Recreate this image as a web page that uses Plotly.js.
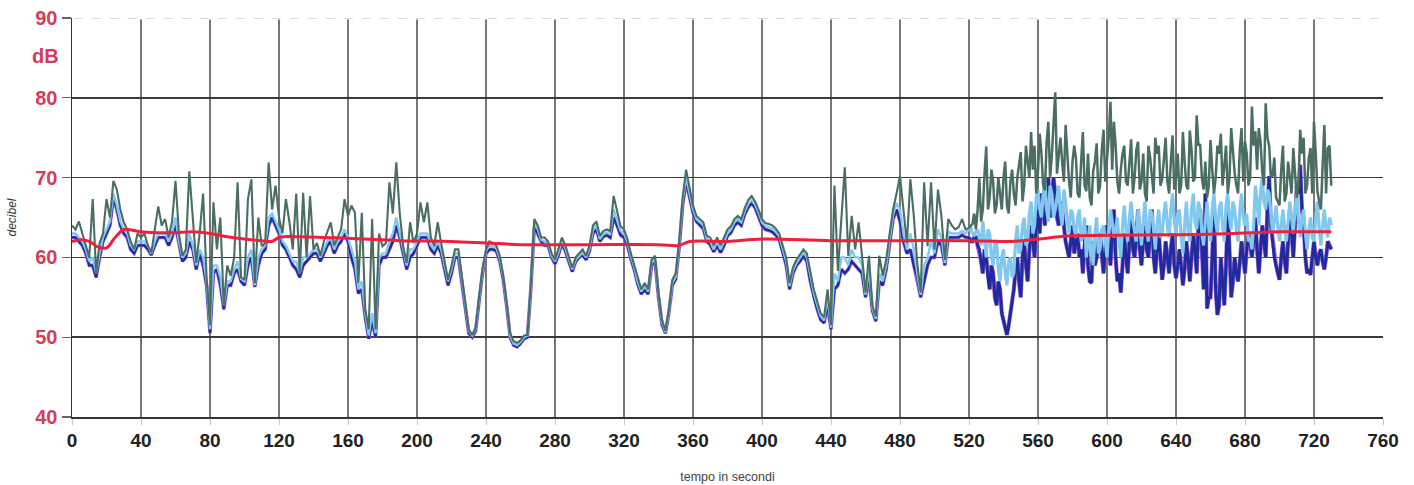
<!DOCTYPE html>
<html>
<head>
<meta charset="utf-8">
<script src="https://cdn.plot.ly/plotly-3.0.1.min.js"></script>
<style>
  html, body { margin: 0; padding: 0; background: #ffffff; }
  #chart { width: 1414px; height: 485px; }
</style>
</head>
<body>
<div id="chart"></div>
<script>
// ---- data ----
// main samples: one every 2 s from 0 s to 730 s
const sampleStep = 2;
const firstSecond = 0;
// extra samples in the busy end section: odd seconds from 521 s to 729 s
const denseFirstSecond = 521;
// the busy section starts here (drawn with heavier strokes, as in the scan)
const busyFrom = 520;

// dark green trace (highest level)
const levelGreen = [
  64, 63.5, 64.5, 63, 61.5, 60, 67.3, 58, 61.8, 63,
  67.3, 65, 69.6, 68.5, 66, 64.4, 63.5, 62, 61, 63,
  62.5, 63, 61.5, 60.6, 63.5, 66.4, 64, 64.8, 62.5, 64.5,
  69.6, 63, 60.2, 61, 70.8, 65, 59.3, 63, 68, 57.6,
  51.5, 66.9, 61, 65, 54, 59, 57.7, 60, 69.4, 57.5,
  57.2, 67.3, 69.8, 56.8, 65, 61.4, 61.8, 71.9, 66, 69,
  65, 63, 67.3, 64.5, 61, 68, 58, 68.1, 60, 67.7,
  61, 61.8, 60.2, 62, 63.1, 64.4, 61.5, 62.5, 63.5, 67.3,
  65.2, 66.5, 65.6, 56.8, 65.6, 53.5, 51, 64.8, 51, 63,
  61.4, 61.8, 69.4, 65.5, 71.9, 65.5, 61.4, 59.3, 64.4, 61.8,
  63, 66.9, 64.4, 66.9, 62.5, 61.4, 64.4, 61.8, 59.3, 57.2,
  59, 61, 61, 57.7, 53.9, 51, 50.3, 51.2, 55.1, 58.6,
  61, 62, 61.8, 61.5, 60.2, 57.7, 54.3, 50.5, 49.5, 49.3,
  49.6, 50.2, 50.3, 56.8, 64.8, 64, 62.5, 62.5, 62, 60.5,
  59.7, 61, 62.5, 61.5, 60, 58.7, 60, 60.5, 61, 60.2,
  61.5, 64, 64.5, 62.7, 63.3, 63.5, 63.3, 67.7, 65.6, 63.9,
  63.5, 62.3, 60.5, 59, 57.2, 56, 56.8, 56, 59.7, 60.2,
  55.6, 52.2, 50.8, 53.5, 57.2, 58, 62, 67.5, 71, 68.5,
  66.5, 65.2, 64.8, 64.4, 62.7, 62.5, 61.5, 62.5, 61.5, 62.5,
  63.5, 63.9, 64.8, 65.2, 64.8, 66.2, 67.2, 67.7, 67, 66,
  64.8, 64.3, 64.2, 64, 63.6, 63, 61.5, 60, 56.8, 58.8,
  59.7, 60.3, 61, 60.5, 58, 56, 54.5, 53, 52.5, 56,
  51.5, 69, 58.3, 65.5, 71.3, 60.2, 65.2, 61, 64.4, 60.2,
  55.6, 60.2, 53.9, 52.6, 60.2, 57.7, 59.7, 63, 66, 68,
  70.2, 66, 61.8, 69.8, 65.2, 59.3, 55.6, 69.4, 61.4, 69.4,
  61, 68.5, 65.2, 59.7, 64.8, 64, 63.5, 63.8, 64.8, 63.5,
  63.7, 64.2, 63.5, 69.9, 66, 73.9, 67.5, 69.5, 66.5, 67.5,
  70, 66.5, 69.5, 68, 70, 73.2, 69, 71.6, 75.7, 74,
  70.8, 73, 68.4, 77, 72.7, 80.7, 73, 72, 76.6, 69.5,
  72, 72.4, 67.5, 75.7, 68.3, 67.5, 70.8, 74.3, 69, 76,
  72.4, 79.5, 77, 69.5, 71, 74, 69, 74.8, 70, 74.5,
  69.5, 68, 74, 70.4, 75, 74, 69.8, 75, 68, 75.3,
  70, 68, 75.7, 69, 75.9, 69.5, 77.8, 74.2, 68.5, 67.5,
  74.7, 68, 74, 75.5, 71.8, 68, 76.2, 70.6, 68, 76.2,
  74.5, 69, 78.9, 75.8, 76.2, 70.7, 79.3, 74, 70.3, 67.5,
  66.5, 74, 68, 69.5, 73.7, 67.5, 76, 75, 69, 73.7,
  77, 68.3, 66, 76.6, 73.7, 69
];
const denseGreen = [
  64, 65.5, 66, 64.5, 70.5, 66, 71, 65.5, 70, 66,
  72, 65.5, 71, 66.5, 72, 67, 74, 70, 71, 68,
  75.5, 69, 74.5, 70, 76, 70.5, 75, 69.5, 73, 67.5,
  74, 68, 72, 69, 73, 66.5, 72, 68, 73.5, 69.5,
  75, 71, 74, 68, 73, 69.5, 72, 68, 73.5, 68.5,
  73, 67, 72.5, 68, 73, 69, 73, 69.5, 72, 68.5,
  73, 69, 72, 68.5, 73.5, 70, 74, 70, 72, 69,
  71, 70, 73, 69, 74, 70, 73, 69, 73.5, 69.5,
  73, 70, 74, 71, 74.5, 69, 75, 70, 72.5, 67,
  71, 67, 72, 68, 71, 69, 73, 68, 72.5, 68,
  73, 67, 71.5, 68, 74
];

// light blue trace (middle level)
const levelLightBlue = [
  63, 63, 62.5, 62, 61, 59.5, 60, 58, 60.5, 62.5,
  63.5, 64.5, 68, 66.5, 64.5, 63.5, 63, 61.5, 61, 62,
  62, 62, 61.5, 60.5, 62, 63, 63, 63, 62, 63,
  65, 62, 60, 60.5, 63, 61.5, 59, 61, 60, 57,
  51, 59, 59, 57.5, 54, 57, 57, 58.5, 59.5, 57.3,
  57, 60, 61, 56.5, 60, 61, 61.5, 65, 65.5, 64.5,
  63.5, 62, 61.5, 60.5, 59.5, 59.5, 58, 60, 60, 60.5,
  61, 61, 60, 61, 62, 62.5, 61, 62, 62.5, 63.5,
  62.5, 61, 59.5, 56, 57, 53, 50.2, 53, 50.5, 60,
  60.5, 60.5, 62, 63, 65, 63, 61, 59, 61, 61,
  62, 63, 63, 63, 61.5, 61, 62, 61, 59, 57,
  58.5, 60.5, 60.5, 57.3, 53.7, 50.8, 50.2, 51, 54.8, 58.3,
  60.8, 61.5, 61.4, 61.2, 59.8, 57.5, 54, 50.2, 49.2, 49,
  49.4, 50, 50.2, 56.4, 64.3, 63.5, 62.2, 62, 61.8, 60.2,
  59.5, 60.6, 62.1, 61.1, 59.8, 58.5, 59.7, 60.2, 60.6, 60,
  61.1, 63.4, 64, 62.3, 62.9, 63.1, 62.9, 66, 64.6, 63.3,
  63, 61.9, 60.1, 58.7, 56.9, 55.7, 56.4, 55.7, 59.3, 59.8,
  55.3, 51.9, 50.6, 53.2, 56.8, 57.6, 61.6, 67, 70, 68,
  66, 64.8, 64.4, 64, 62.3, 62, 61, 62, 61, 62,
  63, 63.5, 64.4, 64.8, 64.4, 65.8, 66.7, 67.2, 66.6, 65.6,
  64.4, 63.9, 63.8, 63.6, 63.2, 62.6, 61, 59.5, 56.4, 58.4,
  59.3, 59.9, 60.6, 60, 57.5, 55.5, 54, 52.6, 52.1, 55,
  51.2, 58, 57, 60, 60, 59, 61, 60, 60, 59,
  55.3, 58.5, 53.6, 52.3, 58, 57, 59, 62.5, 65.3, 66.8,
  66, 63, 61, 63, 61, 58, 55.3, 59, 60, 62,
  60.5, 63.5, 62.5, 59.3, 63.2, 63, 63, 63, 63.3, 63,
  63.5, 63, 63.2, 62.5, 64.5, 60, 63, 59, 62, 57,
  61, 56.5, 60, 58, 64, 61, 65, 62, 67, 64,
  68.5, 65, 69.5, 64.5, 68, 66, 69, 64, 67, 63,
  65.5, 62.5, 66, 63, 60, 64, 59, 65, 61, 64,
  60, 66, 62.5, 65, 60, 66.5, 62, 67, 63, 66,
  61.5, 67, 62, 65.5, 61, 66, 63, 67, 62.5, 68,
  63, 66, 60.5, 67, 62, 68, 63.5, 66, 61.5, 67,
  62, 68, 63, 67, 62, 68, 63.5, 66, 62, 68,
  64, 62, 61, 69, 64, 70, 66, 68, 63, 66.5,
  62, 66, 62, 67, 63, 68, 62.5, 66, 61, 65,
  62, 67, 61.5, 66, 62.5, 64
];
const denseLightBlue = [
  63.8, 62.8, 63.5, 61.5, 62, 63.5, 60, 62, 58.5, 60,
  58, 59.5, 57.5, 62, 60.5, 64, 61.5, 65.5, 63, 67.5,
  66, 68, 66, 69, 65, 67.5, 65.5, 68.5, 64.5, 66,
  63.5, 65, 62, 65, 62, 61, 63, 60.5, 63.5, 62,
  63.5, 64.5, 63.5, 62, 64, 63.5, 65, 64.5, 62, 64,
  64.5, 63.5, 66, 63.5, 64, 62.5, 65.5, 64, 66, 64.5,
  65.5, 62.5, 64, 63.5, 66, 64.5, 67, 63, 64.5, 64,
  66, 64.5, 66, 64, 66.5, 65, 67, 63.5, 66, 65,
  65.5, 62.5, 64, 67, 68, 67, 68.5, 65.5, 64.5, 64,
  64, 63.5, 64.5, 65, 66, 64.5, 65, 63, 63.5, 62.5,
  65, 63.5, 64, 63.5, 65
];

// navy trace (lowest level)
const levelNavy = [
  62.5, 62.5, 62, 61.5, 60.5, 59, 59, 57.5, 60, 62,
  63, 64, 67.5, 66, 64, 63, 62.5, 61, 60.5, 61.5,
  61.5, 61.5, 61, 60.3, 61.5, 62.5, 62.5, 62.5, 61.5, 62.5,
  64, 61.5, 59.5, 60, 62, 61, 58.5, 60.5, 59, 56.5,
  50.5, 58, 58.5, 56.5, 53.5, 56.5, 56.5, 58, 58.5, 57,
  56.5, 59, 60, 56.3, 59, 60.5, 61, 64, 65, 64,
  63, 61.5, 61, 60, 59, 58.5, 57.5, 59, 59.5, 60,
  60.5, 60.5, 59.5, 60.5, 61.5, 62, 60.5, 61.5, 62, 63,
  62, 60, 58.5, 55.5, 56, 52.5, 49.8, 52, 50, 59,
  60, 60, 61, 62, 64, 62.5, 60.5, 58.5, 60, 60.5,
  61.5, 62.5, 62.5, 62.5, 61, 60.5, 61.5, 60.5, 58.5, 56.5,
  58, 60, 60, 57, 53.5, 50.5, 50, 50.8, 54.5, 58,
  60.5, 61, 61, 60.8, 59.5, 57.2, 53.8, 50, 49, 48.8,
  49.2, 49.8, 50, 56, 63.8, 63, 62, 61.5, 61.5, 60,
  59.2, 60.3, 61.8, 60.8, 59.5, 58.2, 59.5, 60, 60.3, 59.7,
  60.8, 63, 63.5, 62, 62.6, 62.8, 62.5, 65, 64, 62.8,
  62.5, 61.5, 59.8, 58.4, 56.6, 55.4, 56, 55.4, 59, 59.5,
  55, 51.6, 50.5, 53, 56.5, 57.3, 61.2, 66.5, 69.5, 67.5,
  65.6, 64.5, 64, 63.6, 62, 61.6, 60.7, 61.5, 60.6, 61.5,
  62.7, 63.1, 64, 64.4, 64, 65.4, 66.3, 66.8, 66.2, 65.2,
  64, 63.5, 63.4, 63.2, 62.8, 62.2, 60.7, 59, 56, 58,
  59, 59.5, 60.2, 59.5, 57, 55, 53.5, 52.2, 51.8, 54,
  51, 56, 56.5, 58.5, 58, 58.5, 59.5, 59, 58.5, 58,
  55, 57.5, 53.3, 52, 57, 56.5, 58.5, 62, 64.8, 66,
  64.5, 62, 60.5, 61, 59, 57.5, 55, 57, 59, 60,
  60, 62, 61.5, 59, 62.5, 62.5, 62.5, 62.5, 62.8, 62.5,
  62.5, 62, 62.5, 61, 58, 60, 56, 58, 54, 56,
  52, 50.3, 53, 56, 60, 55, 62, 57, 64, 60,
  66, 68, 64, 70, 67.6, 68, 64, 66, 62, 60,
  64, 62, 60, 58, 64, 57, 62, 60, 63, 58,
  64, 59, 66, 57, 55.6, 63, 58, 65, 60, 66,
  59, 64, 60, 66, 58, 63, 57.2, 62, 58, 63,
  57.4, 61, 56.5, 62, 57, 63, 58, 66, 56, 53.6,
  55, 67, 52.8, 60, 54, 66, 55, 60, 57, 62,
  58, 63, 60, 65, 58, 64, 60, 70.2, 62, 59,
  57.2, 62, 58, 66, 60, 69, 71.6, 64, 58, 57.8,
  62, 59, 61, 58.5, 62, 61
];
const denseNavy = [
  62, 62.5, 61.5, 59.5, 61, 57.5, 59, 55, 57, 53,
  51, 51.5, 55, 58.5, 57, 60, 59, 61, 62, 64,
  63, 66, 67, 65, 70, 65, 67, 63.5, 61, 62,
  60.5, 63, 61, 62, 59, 56.8, 59, 62, 60, 61,
  62, 63, 60, 58, 59, 60, 62, 61, 62.5, 61,
  62, 61, 63, 60, 61, 60, 59, 60, 61, 59,
  59, 59, 58.5, 60, 60, 61, 64, 61, 68, 55,
  60, 56, 54, 57, 59, 61, 57, 58, 59.5, 60,
  61, 61.5, 62, 61, 61, 62, 66, 64, 60, 58,
  60, 59.5, 62, 63, 64, 68, 66, 60, 58.5, 60,
  60, 60.5, 59.5, 60, 61.5
];

// red smooth trace (running average)
const redSeconds = [0, 5, 10, 15, 20, 25, 30, 35, 40, 50, 60, 70, 80, 90, 100, 110, 116, 120, 130, 160, 190, 220, 240, 260, 300, 340, 352, 358, 380, 400, 440, 480, 520, 545, 560, 580, 620, 660, 700, 730];
const redLevel   = [62.0, 62.2, 62.0, 61.3, 61.2, 62.5, 63.5, 63.4, 63.2, 63.1, 63.1, 63.2, 63.0, 62.6, 62.3, 62.1, 62.0, 62.5, 62.6, 62.4, 62.1, 62.0, 61.8, 61.6, 61.6, 61.6, 61.5, 62.0, 62.0, 62.3, 62.1, 62.1, 62.1, 62.0, 62.3, 62.7, 62.8, 62.9, 63.2, 63.2];

// axis ticks
const xTicks = [0, 40, 80, 120, 160, 200, 240, 280, 320, 360, 400, 440, 480, 520, 560, 600, 640, 680, 720, 760];
const yTicks = [40, 50, 60, 70, 80, 90];

// ---- build: merge main samples and odd-second samples into one time-ordered series ----
function mergeSeries(main, dense) {
  const pts = [];
  main.forEach((v, i) => pts.push([firstSecond + i * sampleStep, v]));
  dense.forEach((v, i) => pts.push([denseFirstSecond + i * sampleStep, v]));
  pts.sort((a, b) => a[0] - b[0]);
  const calm = pts.filter(p => p[0] <= busyFrom);
  const busy = pts.filter(p => p[0] >= busyFrom);
  return {
    calm: { x: calm.map(p => p[0]), y: calm.map(p => p[1]) },
    busy: { x: busy.map(p => p[0]), y: busy.map(p => p[1]) }
  };
}
const green = mergeSeries(levelGreen, denseGreen);
const lightBlue = mergeSeries(levelLightBlue, denseLightBlue);
const navy = mergeSeries(levelNavy, denseNavy);

function lineTrace(part, color, width) {
  return { x: part.x, y: part.y, type: 'scatter', mode: 'lines',
           line: { color: color, width: width }, hoverinfo: 'skip' };
}

const traces = [
  lineTrace(navy.calm, '#a66ad6', 3.6),
  lineTrace(navy.busy, '#a66ad6', 4.2),
  lineTrace(navy.calm, '#1f2a9c', 2.3),
  lineTrace(navy.busy, '#1f2a9c', 3.0),
  lineTrace(lightBlue.calm, '#80c8ee', 2.4),
  lineTrace(lightBlue.busy, '#80c8ee', 3.2),
  lineTrace(green.calm, '#4b6e62', 2.1),
  lineTrace(green.busy, '#4b6e62', 2.5),
  { x: redSeconds, y: redLevel, type: 'scatter', mode: 'lines',
    line: { color: '#f0203c', width: 3, shape: 'spline', smoothing: 1 }, hoverinfo: 'skip' }
];

const layout = {
  width: 1414, height: 485,
  margin: { l: 72, r: 31, t: 18, b: 68 },
  paper_bgcolor: '#ffffff', plot_bgcolor: '#ffffff',
  showlegend: false,
  font: { family: 'Liberation Sans, Arial, sans-serif' },
  xaxis: {
    range: [0, 760], tickvals: xTicks,
    showgrid: true, gridcolor: '#777777', gridwidth: 1.3,
    zeroline: false, showline: true, linecolor: '#333', linewidth: 1.5,
    ticks: 'outside', ticklen: 6, tickcolor: '#c8c8c8', tickwidth: 1,
    tickfont: { size: 19, color: '#222', weight: 'bold' },
    title: { text: 'tempo in secondi', font: { size: 12.5, color: '#444' }, standoff: 22 }
  },
  yaxis: {
    range: [40, 90], tickvals: yTicks,
    showgrid: true, gridcolor: '#3a3a3a', gridwidth: 1.5,
    zeroline: false, showline: true, linecolor: '#333', linewidth: 1.5,
    ticks: 'outside', ticklen: 9, tickcolor: '#666', tickwidth: 1.2,
    tickfont: { size: 20, color: '#d63c5a', weight: 'bold' },
    title: { text: '<i>decibel</i>', font: { size: 12, color: '#333' }, standoff: 16 }
  },
  shapes: [
    { type: 'line', xref: 'paper', yref: 'y', x0: 0.0015, x1: 1, y0: 90, y1: 90,
      line: { color: '#ffffff', width: 3 }, layer: 'above' },
    { type: 'line', xref: 'paper', yref: 'y', x0: 0.0015, x1: 1, y0: 90, y1: 90,
      line: { color: '#b8b8b8', width: 1, dash: 'dash' }, layer: 'above' }
  ],
  annotations: [
    { xref: 'paper', yref: 'y', x: 0, y: 85.3, xanchor: 'right', yanchor: 'middle',
      xshift: -11, text: 'dB', showarrow: false,
      font: { size: 20, color: '#d63c5a', weight: 'bold', family: 'Liberation Sans, Arial, sans-serif' } }
  ]
};

Plotly.newPlot('chart', traces, layout, { staticPlot: true, displayModeBar: false });
</script>
</body>
</html>
